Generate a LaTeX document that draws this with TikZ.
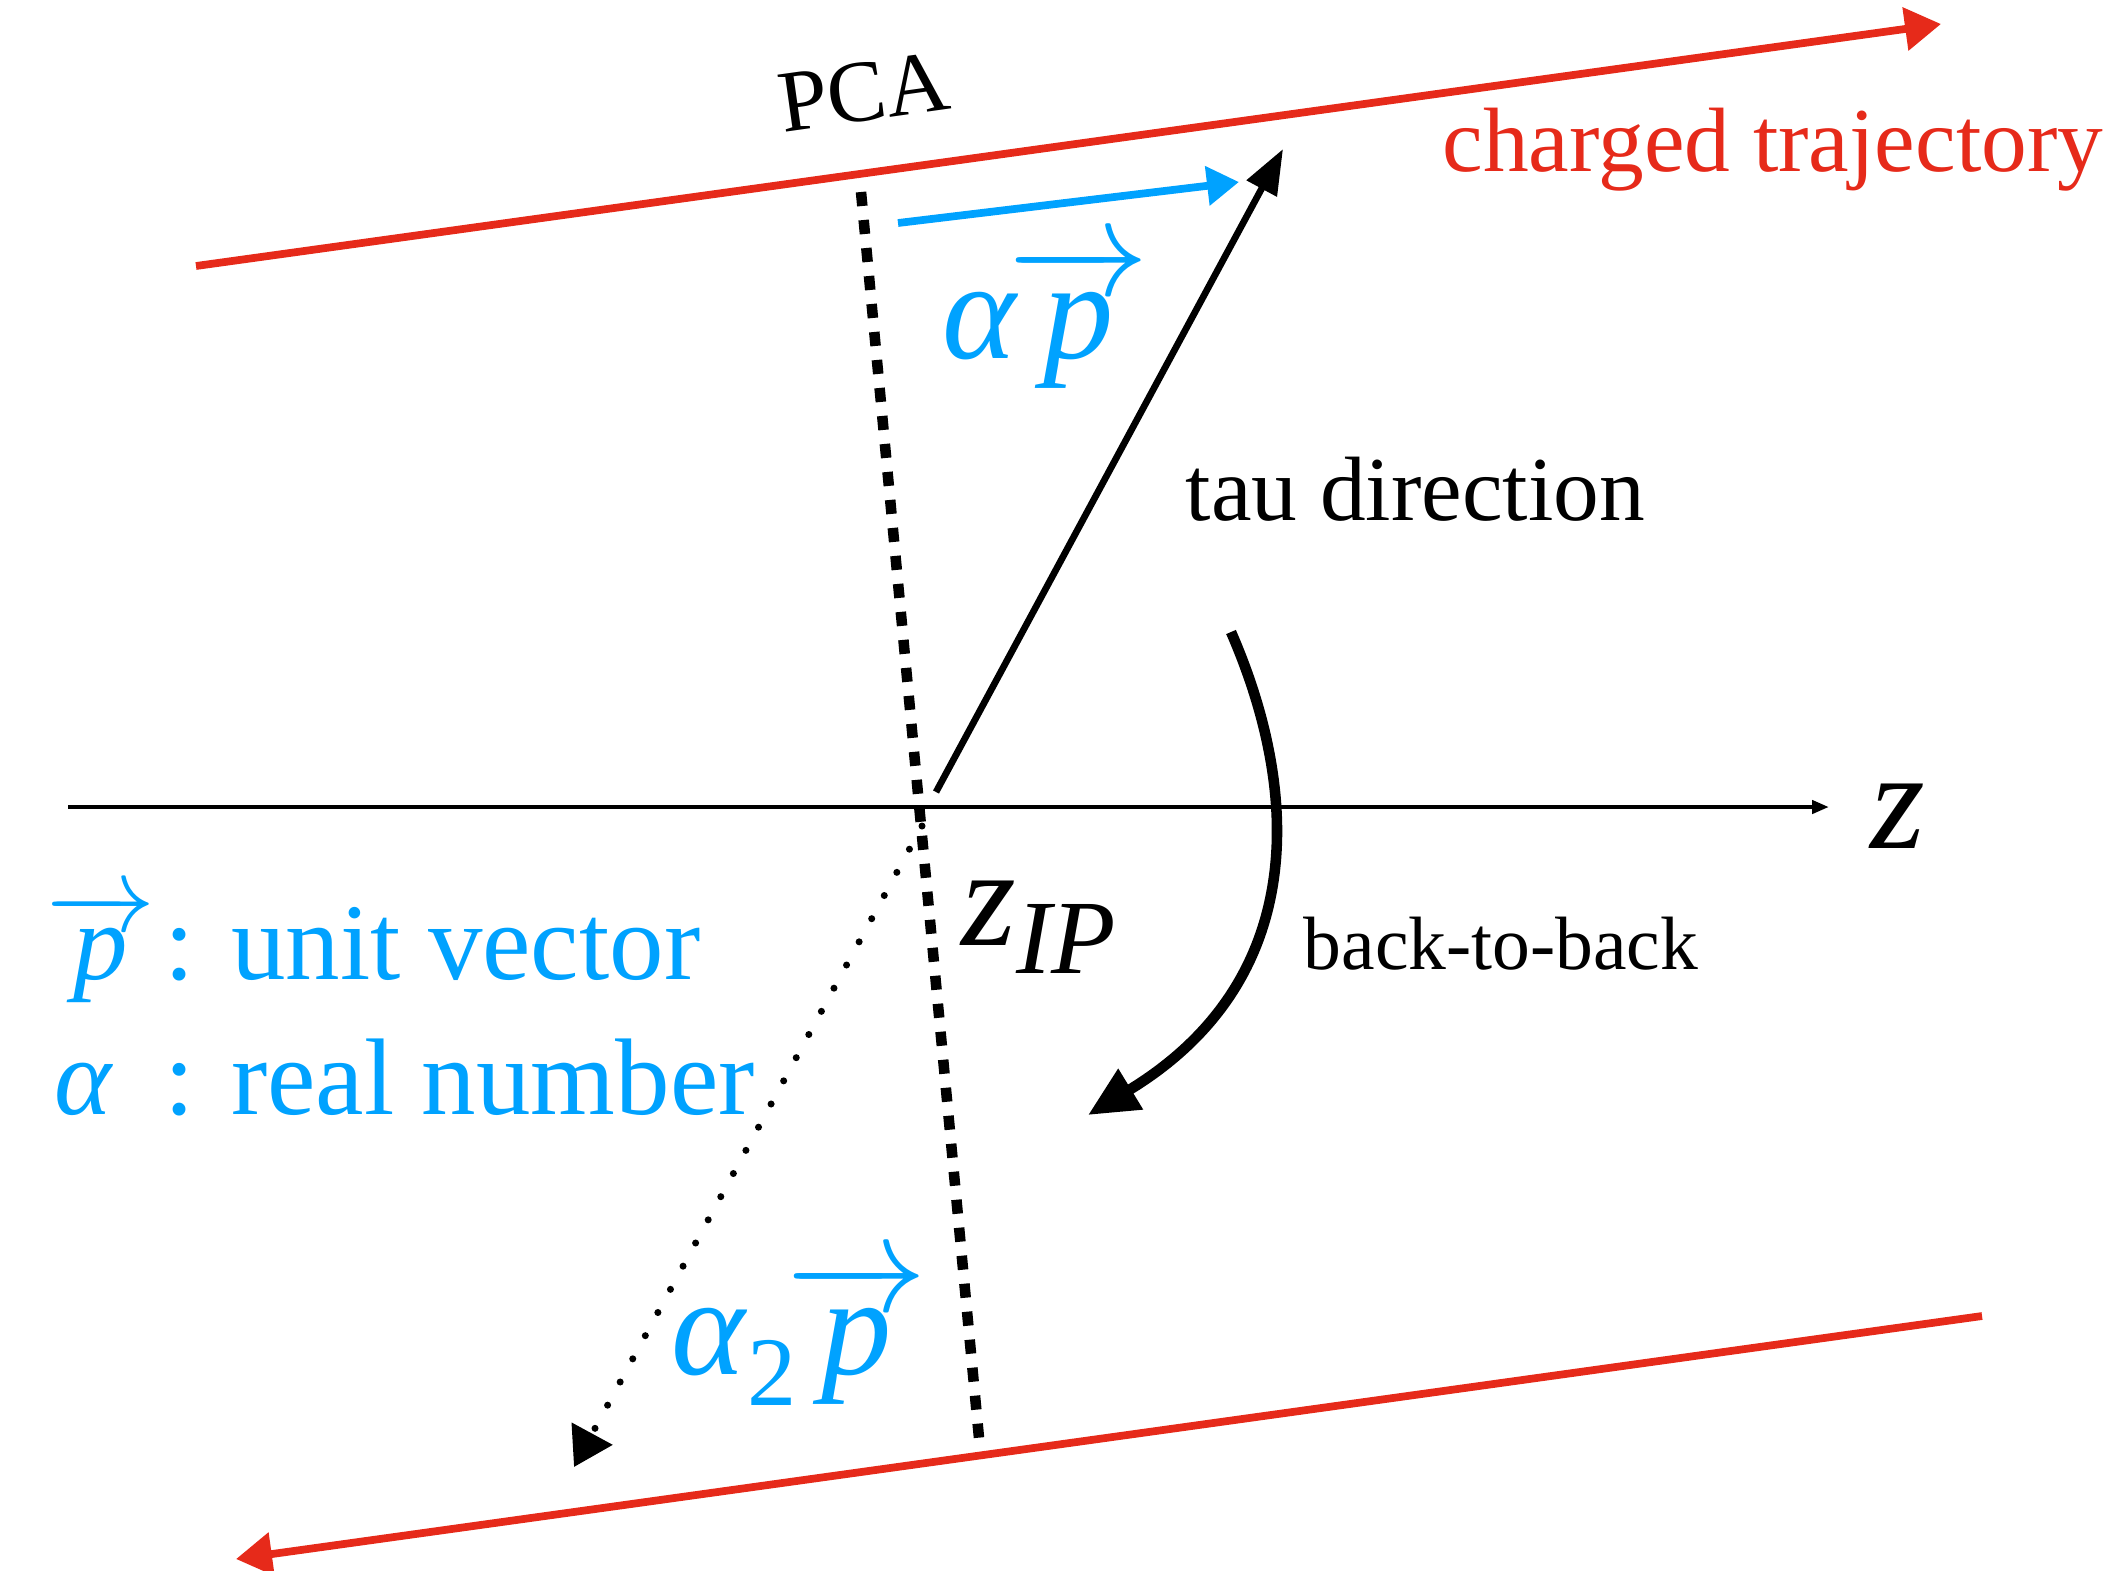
\documentclass[tikz,border=0pt]{standalone}
\usepackage{fix-cm}
\usepackage{fontspec}
\setmainfont{Liberation Serif}
\usetikzlibrary{arrows.meta}
\definecolor{traj}{HTML}{E62A1A}
\definecolor{vecb}{HTML}{00A2FF}
\newcommand{\vecp}{$\overrightarrow{\textit{p}}$}

\begin{document}
\begin{tikzpicture}[
    track/.style={traj,line width=2.2pt,-{Triangle[length=0.36cm,width=0.42cm]}},
    lbl/.style={inner sep=0pt,anchor=base west},
    pcaline/.style={line width=3pt,dash pattern=on 4pt off 4pt}]
  \useasboundingbox (0,0) rectangle (21.17,-15.70);
  % points
  \coordinate (up1) at (1.96,-2.66);
  \coordinate (up2) at (19.41,-0.24);
  \coordinate (lo1) at (19.82,-13.16);
  \coordinate (lo2) at (2.36,-15.59);
  \coordinate (pcatop) at (8.61,-1.92);
  \coordinate (pcabot) at (9.79,-14.38);
  \coordinate (ax1) at (0.68,-8.07);
  \coordinate (ax2) at (18.29,-8.07);
  \coordinate (ip) at (9.36,-7.92);
  \coordinate (tau) at (12.83,-1.49);
  \coordinate (ip2) at (9.22,-8.26);
  \coordinate (opp) at (5.74,-14.67);
  \coordinate (bl1) at (8.98,-2.23);
  \coordinate (bl2) at (12.39,-1.82);
  \coordinate (rot1) at (12.31,-6.32);
  \coordinate (rot2) at (10.88,-11.15);

  % tracks
  \draw[track] (up1) -- (up2);
  \draw[track] (lo1) -- (lo2);
  \draw[pcaline] (pcatop) -- (pcabot);
  \draw[line width=1.2pt,-{Triangle[length=0.17cm,width=0.13cm]}] (ax1) -- (ax2);
  \draw[line width=1.9pt,-{Triangle[length=0.45cm,width=0.33cm]}] (ip) -- (tau);
  \draw[line width=2pt,line cap=round,dash pattern=on 0pt off 7.5pt,
        -{Triangle[length=0.38cm,width=0.45cm]}] (ip2) -- (opp);
  \draw[vecb,line width=2.2pt,-{Triangle[length=0.32cm,width=0.38cm]}] (bl1) -- (bl2);
  \draw[line width=3pt,-{Triangle[length=0.5cm,width=0.45cm]}]
    (rot1) .. controls (13.00,-7.90) and (13.10,-9.80) .. (rot2);

  % labels
  \node[rotate=8,font=\fontsize{25}{30}\selectfont] (pca) at (8.64,-0.92) {PCA};
  \node[lbl,traj,font=\fontsize{26}{31}\selectfont] (trajlbl) at (14.42,-1.71) {charged trajectory};
  \node[lbl,font=\fontsize{26}{31}\selectfont] (taulbl) at (11.85,-5.20) {tau direction};
  \node[lbl,font=\fontsize{21.5}{26}\selectfont] (b2b) at (13.03,-9.69) {back-to-back};
  \node[lbl,font=\fontsize{40}{48}\selectfont\itshape] (zlbl) at (18.70,-8.48) {z};
  \node[lbl,font=\fontsize{40}{48}\selectfont\itshape] (zip) at (9.61,-9.45)
    {z\raisebox{-8pt}{\fontsize{30}{36}\selectfont IP}};
  \node[lbl,vecb,font=\fontsize{40}{48}\selectfont] (aplbl) at (9.42,-3.58)
    {\textit{α}\hspace{-3pt}\vecp};
  \node[lbl,vecb,font=\fontsize{40}{48}\selectfont] (a2lbl) at (6.71,-13.74)
    {\textit{α}\raisebox{-9pt}{\fontsize{28}{32}\selectfont 2}\hspace{-3pt}\vecp};

  % legend
  \node[lbl,vecb,font=\fontsize{31}{37}\selectfont] (legp) at (0.46,-9.79) {\vecp};
  \node[lbl,vecb,font=\fontsize{31}{37}\selectfont] (legpt) at (1.64,-9.79) {: unit vector};
  \node[lbl,vecb,font=\fontsize{31}{37}\selectfont] (lega) at (0.54,-11.14) {\textit{α}};
  \node[lbl,vecb,font=\fontsize{31}{37}\selectfont] (legat) at (1.64,-11.14) {: real number};
\end{tikzpicture}
\end{document}
